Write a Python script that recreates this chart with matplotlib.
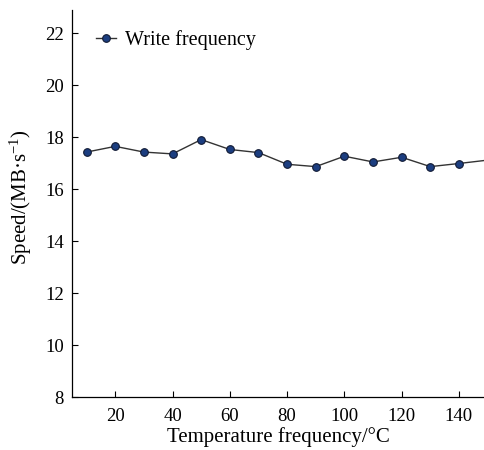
import matplotlib
matplotlib.use("Agg")
import matplotlib.pyplot as plt

plt.rcParams['font.family'] = ['Liberation Serif', 'DejaVu Serif']
plt.rcParams['mathtext.fontset'] = 'custom'
plt.rcParams['mathtext.rm'] = 'Liberation Serif'
plt.rcParams['mathtext.it'] = 'Liberation Serif:italic'

temperature = [10, 20, 30, 40, 50, 60, 70, 80, 90, 100, 110, 120, 130, 140, 150]
write_speed = [17.43, 17.65, 17.43, 17.36, 17.91, 17.53, 17.41, 16.96, 16.87,
               17.27, 17.05, 17.23, 16.87, 16.99, 17.12]
x_ticks = [20, 40, 60, 80, 100, 120, 140]
y_ticks = [8, 10, 12, 14, 16, 18, 20, 22]

fig = plt.figure(figsize=(4.85, 4.5), dpi=100)
ax = fig.add_axes([72/485, 1 - 397/450, 1 - 72/485, (397 - 10)/450])

ax.plot(temperature, write_speed, color='#333333', linewidth=1.0,
        marker='o', markersize=5.5, markerfacecolor='#1c3e80',
        markeredgecolor='#111a33', markeredgewidth=0.8,
        label='Write frequency')

ax.set_xlim(4.9, 149.1)
ax.set_ylim(8, 22.9)
ax.set_xticks(x_ticks)
ax.set_yticks(y_ticks)
ax.tick_params(direction='in', labelsize=13.5, length=4.5, width=0.8)
ax.tick_params(axis='x', pad=8)
ax.tick_params(axis='y', pad=6)
ax.spines['top'].set_visible(False)
ax.spines['right'].set_visible(False)
for s in ['left', 'bottom']:
    ax.spines[s].set_linewidth(0.9)

ax.set_xlabel('Temperature frequency/°C', fontsize=15, labelpad=1.5)
ax.set_ylabel('Speed/(MB·s$^{-1}$)', fontsize=15)
ax.yaxis.set_label_coords(-0.093, 0.515)
ax.legend(loc='upper left', frameon=False, fontsize=14.5,
          handlelength=1.0, handletextpad=0.45, borderaxespad=0.0,
          bbox_to_anchor=(0.038, 0.97))

fig.savefig('out.png', dpi=100)
